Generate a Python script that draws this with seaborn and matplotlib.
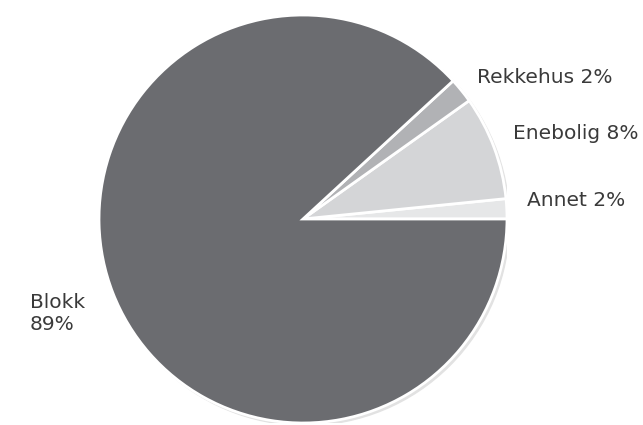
import matplotlib
matplotlib.use("Agg")
import matplotlib.pyplot as plt
import seaborn as sns
from matplotlib.patches import Circle

# boligtype og andel (%)
kategorier = ["Annet", "Enebolig", "Rekkehus", "Blokk"]
andel = [1.6, 8.3, 2.0, 88.6]
farger = ["#e6e7e8", "#d4d5d7", "#b1b2b5", "#6b6c70"]

sns.set_style("white")
plt.rcParams["font.family"] = ["DejaVu Sans"]

etiketter = [f"{k} {v:.0f}%" for k, v in zip(kategorier, andel)]
etiketter[-1] = f"{kategorier[-1]}\n{andel[-1]:.0f}%"

fig = plt.figure(figsize=(6.43, 4.25), dpi=100)
ax = fig.add_axes([99 / 643, 2 / 425, 408 / 643, 408 / 425])

# svak skygge langs kanten nede til høyre
ax.add_patch(Circle((0.012, -0.012), 1.0, color="#e2e2e2", zorder=0))

wedges, texts = ax.pie(andel, labels=etiketter, colors=farger, startangle=0,
                       counterclock=True, labeldistance=1.1,
                       wedgeprops=dict(edgecolor="white", linewidth=2),
                       textprops=dict(fontsize=14.5, color="#3a3a3a"))
for w in wedges:
    w.set_zorder(1)

# finjustering av etikettene (1 px = 1/204 i dataenheter)
px = 1 / 204
forskyvning = [(0, 7), (0, 7), (0, 0), (-9, -13)]
for t, (dx, dy) in zip(texts, forskyvning):
    x, y = t.get_position()
    t.set_position((x + dx * px, y + dy * px))
texts[-1].set_multialignment("left")
texts[-1].set_linespacing(1.2)

ax.set_xlim(-1, 1)
ax.set_ylim(-1, 1)
ax.set_aspect("equal")
ax.axis("off")

fig.savefig("out.png", dpi=100)
